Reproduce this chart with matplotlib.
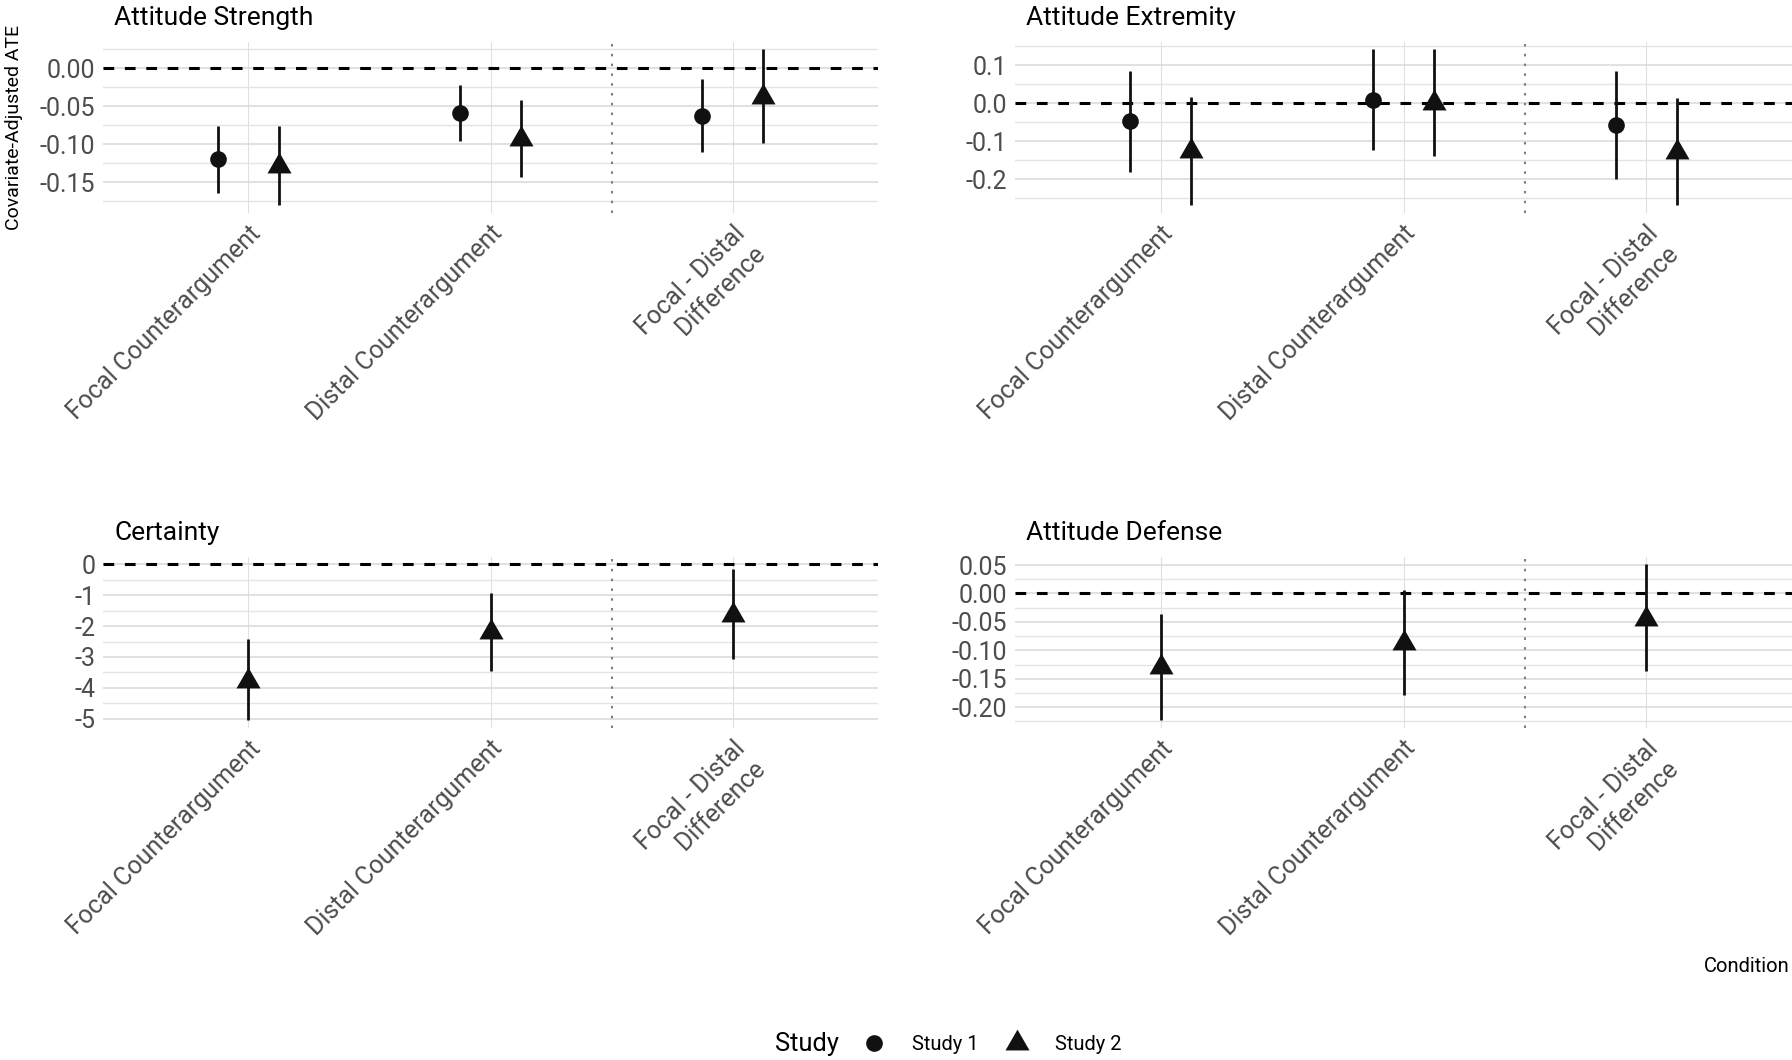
import matplotlib
matplotlib.use("Agg")
import matplotlib.pyplot as plt
import matplotlib.ticker as mticker
from matplotlib.transforms import ScaledTranslation
from matplotlib.lines import Line2D
import numpy as np

plt.rcParams["font.family"] = ["Roboto", "DejaVu Sans"]
plt.rcParams["axes.unicode_minus"] = False

# x categories
conditions = ["Focal Counterargument", "Distal Counterargument", "Focal - Distal\nDifference"]
panel_titles = ["Attitude Strength", "Attitude Extremity", "Certainty", "Attitude Defense"]

# Attitude Strength
strength_s1_est = [-0.119, -0.058, -0.062]
strength_s1_lo = [-0.164, -0.095, -0.110]
strength_s1_hi = [-0.0755, -0.022, -0.014]
strength_s2_est = [-0.129, -0.093, -0.0375]
strength_s2_lo = [-0.180, -0.143, -0.098]
strength_s2_hi = [-0.0755, -0.0415, 0.025]

# Attitude Extremity
extremity_s1_est = [-0.048, 0.009, -0.058]
extremity_s1_lo = [-0.180, -0.124, -0.198]
extremity_s1_hi = [0.085, 0.141, 0.084]
extremity_s2_est = [-0.125, 0.001, -0.128]
extremity_s2_lo = [-0.268, -0.138, -0.268]
extremity_s2_hi = [0.017, 0.141, 0.013]

# Certainty (study 2 only)
certainty_s2_est = [-3.79, -2.20, -1.65]
certainty_s2_lo = [-5.05, -3.45, -3.07]
certainty_s2_hi = [-2.41, -0.91, -0.16]

# Attitude Defense (study 2 only)
defense_s2_est = [-0.130, -0.088, -0.045]
defense_s2_lo = [-0.223, -0.178, -0.137]
defense_s2_hi = [-0.036, 0.006, 0.051]

TRI = [(0, 1), (-0.866, -0.5), (0.866, -0.5)]
INK = "#111111"
W, H = 1792, 1060


def axes_rect(left, top, right, bottom):
    return [left / W, 1 - bottom / H, (right - left) / W, (bottom - top) / H]


def draw_panel(ax, title, s1, s2, major, minor, fmt):
    x = np.arange(1, len(conditions) + 1)
    series = [(s, m, ms) for s, m, ms in [(s1, "o", 12), (s2, TRI, 20)] if s is not None]
    dodge = 0.125 if len(series) == 2 else 0.0
    offs = [-dodge, dodge] if len(series) == 2 else [0.0]

    ax.axhline(0, color="black", lw=2.2, ls=(0, (3.5, 3.5)), zorder=2)
    ax.axvline(2.5, color="#7f7f7f", lw=1.5, ls=(0, (1.2, 3.5)), zorder=2)

    all_vals = [0.0]
    for (s, marker, ms), off in zip(series, offs):
        est, lo, hi = (np.array(v) for v in s)
        all_vals += list(lo) + list(hi)
        ax.vlines(x + off, lo, hi, color=INK, lw=2.0, zorder=3)
        ax.plot(x + off, est, ls="none", marker=marker, ms=ms, color=INK,
                mec=INK, mew=0, zorder=4)

    ymin, ymax = min(all_vals), max(all_vals)
    pad = 0.05 * (ymax - ymin)
    ax.set_ylim(ymin - pad, ymax + pad)
    ax.set_xlim(0.4, len(conditions) + 0.6)

    ax.yaxis.set_major_locator(mticker.MultipleLocator(major))
    ax.yaxis.set_minor_locator(mticker.MultipleLocator(minor))
    ax.yaxis.set_major_formatter(mticker.FuncFormatter(lambda v, p: fmt.format(v + 0.0)))
    ax.set_xticks(x)
    ax.set_xticklabels(conditions, rotation=45, ha="right", va="top",
                       rotation_mode="anchor")
    shift = ScaledTranslation(10 / 100, 0, ax.figure.dpi_scale_trans)
    for lab in ax.get_xticklabels():
        lab.set_transform(lab.get_transform() + shift)

    ax.grid(True, axis="y", which="major", color="#d9d9d9", lw=1.1)
    ax.grid(True, axis="y", which="minor", color="#e4e4e4", lw=1.0)
    ax.grid(True, axis="x", which="major", color="#e0e0e0", lw=0.8)
    ax.set_axisbelow(True)
    for sp in ax.spines.values():
        sp.set_visible(False)
    ax.tick_params(axis="both", which="both", length=0, labelsize=18, labelcolor="#4d4d4d")
    ax.tick_params(axis="y", pad=5.5)
    ax.tick_params(axis="x", pad=6.0)
    ax.set_title(title, loc="left", x=0.0142, y=1.0, pad=12, fontsize=19, color="black")


fig = plt.figure(figsize=(W / 100, H / 100), dpi=100)

ax1 = fig.add_axes(axes_rect(103, 41.7, 878, 213))
ax2 = fig.add_axes(axes_rect(1015, 41.7, 1792, 213))
ax3 = fig.add_axes(axes_rect(103, 556.7, 878, 728))
ax4 = fig.add_axes(axes_rect(1015, 556.7, 1792, 728))

draw_panel(ax1, panel_titles[0],
           (strength_s1_est, strength_s1_lo, strength_s1_hi),
           (strength_s2_est, strength_s2_lo, strength_s2_hi),
           0.05, 0.025, "{:.2f}")
draw_panel(ax2, panel_titles[1],
           (extremity_s1_est, extremity_s1_lo, extremity_s1_hi),
           (extremity_s2_est, extremity_s2_lo, extremity_s2_hi),
           0.1, 0.05, "{:.1f}")
draw_panel(ax3, panel_titles[2], None,
           (certainty_s2_est, certainty_s2_lo, certainty_s2_hi),
           1, 0.5, "{:.0f}")
draw_panel(ax4, panel_titles[3], None,
           (defense_s2_est, defense_s2_lo, defense_s2_hi),
           0.05, 0.025, "{:.2f}")

fig.text(14.5 / W, 1 - 128 / H, "Covariate-Adjusted ATE", rotation=90,
         ha="center", va="center", fontsize=14, color="black")
fig.text(1790 / W, 1 - 966.5 / H, "Condition", ha="right", va="center",
         fontsize=14.5, color="black")

# legend
fig.text(775 / W, 1 - 1051.5 / H, "Study", ha="left", va="baseline", fontsize=18.4)
handles = [
    Line2D([], [], ls="none", marker="o", ms=12, color=INK, mew=0),
    Line2D([], [], ls="none", marker=TRI, ms=20, color=INK, mew=0),
]
fig.legend(handles, ["Study 1", "Study 2"], ncol=2, frameon=False,
           loc="center left", bbox_to_anchor=(864 / W, 1 - 1044.5 / H),
           fontsize=14.5, handlelength=1.0, handletextpad=1.36,
           columnspacing=1.44, borderpad=0, borderaxespad=0)

fig.savefig("out.png", dpi=100)
